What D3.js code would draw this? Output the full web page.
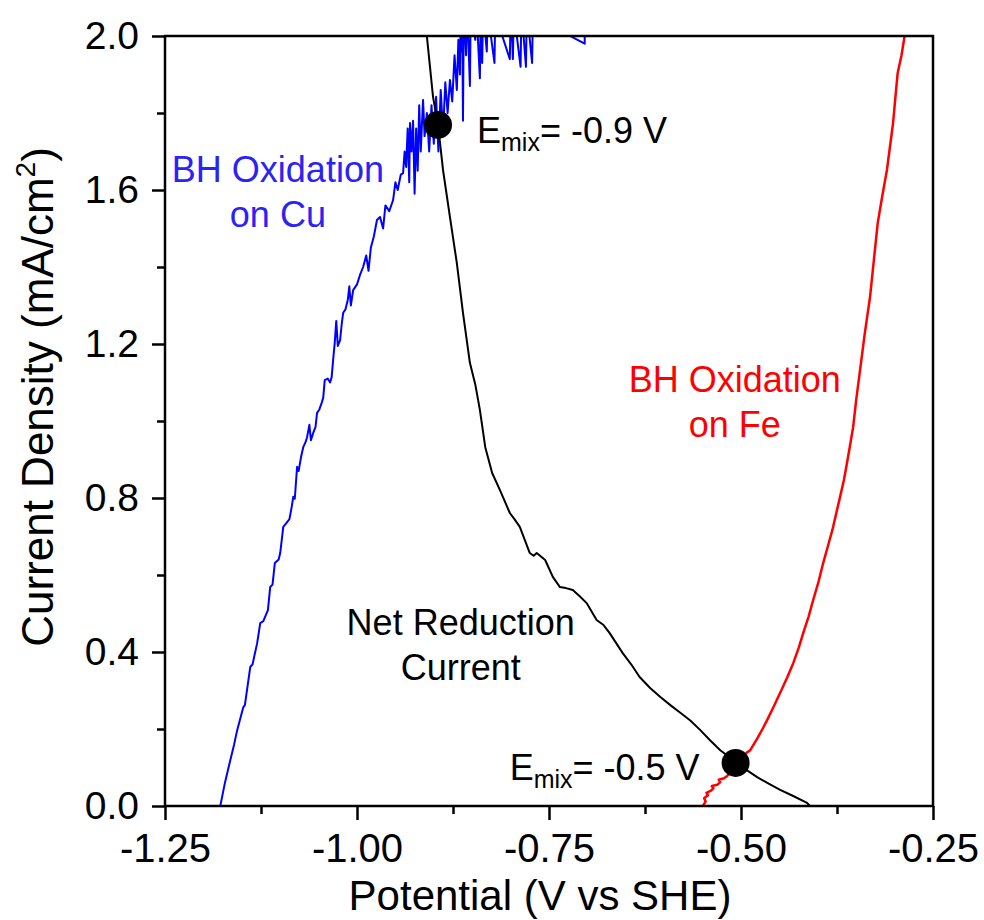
<!DOCTYPE html>
<html>
<head>
<meta charset="utf-8">
<script src="https://cdn.jsdelivr.net/npm/d3@7"></script>
<style>
  body { margin: 0; background: #fff; }
  text { font-family: "Liberation Sans", Arial, sans-serif; }
</style>
</head>
<body>
<div id="chart"></div>
<script>
// ---- data (potential V vs SHE, current density mA/cm2) ----
const xTicksMajor = [-1.25, -1.0, -0.75, -0.5, -0.25]
const xTickLabels = ["-1.25", "-1.00", "-0.75", "-0.50", "-0.25"]
const xTicksMinor = [-1.125, -0.875, -0.625, -0.375]
const yTicksMajor = [0, 0.4, 0.8, 1.2, 1.6, 2.0]
const yTickLabels = ["0.0", "0.4", "0.8", "1.2", "1.6", "2.0"]
const yTicksMinor = [0.2, 0.6, 1.0, 1.4, 1.8]

// BH oxidation on Cu (blue)
const cuPotential = [
  -1.178, -1.172, -1.165, -1.160, -1.156, -1.148, -1.146, -1.139, -1.136, -1.130,
  -1.126, -1.122, -1.116, -1.113, -1.110, -1.107, -1.102, -1.100, -1.096, -1.092,
  -1.088, -1.085, -1.083, -1.081, -1.078, -1.076, -1.073, -1.070, -1.067, -1.065,
  -1.062, -1.060, -1.057, -1.054, -1.052, -1.049, -1.046, -1.044, -1.042, -1.038,
  -1.035, -1.033, -1.031, -1.029, -1.027, -1.025, -1.022, -1.020, -1.018, -1.015,
  -1.012, -1.010, -1.008, -1.005, -1.000, -0.996, -0.992, -0.988, -0.985, -0.982,
  -0.978, -0.974, -0.970, -0.966, -0.963, -0.958, -0.953, -0.950, -0.947, -0.943,
  -0.940, -0.938, -0.936, -0.934, -0.932, -0.931, -0.929, -0.927, -0.925, -0.923,
  -0.921, -0.919, -0.917, -0.914, -0.912, -0.909, -0.906, -0.903, -0.900, -0.897,
  -0.894, -0.891, -0.888, -0.885, -0.882, -0.879, -0.876, -0.873, -0.870, -0.868,
  -0.866, -0.865, -0.864, -0.863, -0.862, -0.861, -0.860, -0.858, -0.857, -0.856,
  -0.853, -0.852, -0.851, -0.846, -0.845, -0.844, -0.840, -0.839, -0.838, -0.837,
  -0.836, -0.835, -0.831, -0.830, -0.829, -0.821, -0.820, -0.819, -0.801, -0.800,
  -0.799, -0.797, -0.796, -0.795, -0.787, -0.786, -0.785, -0.780, -0.779, -0.778,
  -0.772, -0.771, -0.770, -0.7035, -0.7035, -0.7030
]
const cuCurrent = [
  0.000, 0.060, 0.119, 0.160, 0.197, 0.257, 0.262, 0.361, 0.368, 0.423,
  0.475, 0.480, 0.509, 0.569, 0.575, 0.631, 0.640, 0.657, 0.725, 0.735,
  0.745, 0.777, 0.803, 0.798, 0.881, 0.870, 0.905, 0.932, 0.945, 0.958,
  0.990, 0.950, 0.969, 0.985, 1.021, 1.030, 1.047, 1.060, 1.106, 1.110,
  1.100, 1.114, 1.160, 1.203, 1.260, 1.195, 1.210, 1.250, 1.281, 1.290,
  1.314, 1.350, 1.300, 1.340, 1.355, 1.380, 1.400, 1.430, 1.390, 1.450,
  1.480, 1.522, 1.530, 1.500, 1.560, 1.545, 1.574, 1.620, 1.600, 1.640,
  1.644, 1.700, 1.660, 1.760, 1.620, 1.774, 1.700, 1.780, 1.590, 1.760,
  1.650, 1.820, 1.700, 1.834, 1.740, 1.800, 1.700, 1.820, 1.720, 1.842,
  1.700, 1.860, 1.750, 1.880, 1.800, 1.886, 1.830, 1.950, 1.860, 1.990,
  1.900, 2.050, 1.960, 2.050, 1.780, 2.050, 2.050, 1.950, 2.050, 2.050,
  1.870, 2.050, 2.050, 1.990, 2.050, 2.050, 1.890, 2.050, 2.050, 1.930,
  2.050, 2.050, 1.960, 2.050, 2.050, 1.930, 2.050, 2.050, 1.940, 2.050,
  2.050, 1.940, 2.050, 2.050, 1.920, 2.050, 2.050, 1.920, 2.050, 2.050,
  1.930, 2.050, 2.050, 1.980, 2.050
]

// net reduction current (black)
const netPotential = [
  -0.911, -0.9089, -0.901, -0.8945, -0.888, -0.879, -0.870, -0.862, -0.853, -0.846,
  -0.840, -0.833, -0.824, -0.814, -0.801, -0.795, -0.788, -0.775, -0.770, -0.766,
  -0.755, -0.745, -0.736, -0.728, -0.719, -0.710, -0.701, -0.688, -0.679, -0.671,
  -0.654, -0.643, -0.632, -0.618, -0.605, -0.592, -0.579, -0.566, -0.553, -0.540,
  -0.527, -0.517, -0.507, -0.493, -0.479, -0.464, -0.449, -0.432, -0.414, -0.410
]
const netCurrent = [
  2.030, 1.997, 1.842, 1.769, 1.652, 1.530, 1.410, 1.281, 1.151, 1.095,
  1.029, 0.932, 0.865, 0.821, 0.761, 0.745, 0.725, 0.657, 0.650, 0.657,
  0.639, 0.595, 0.569, 0.566, 0.561, 0.545, 0.527, 0.483, 0.470, 0.449,
  0.397, 0.368, 0.335, 0.306, 0.283, 0.262, 0.242, 0.222, 0.197, 0.170,
  0.145, 0.130, 0.112, 0.094, 0.075, 0.058, 0.042, 0.026, 0.008, 0.000
]

// BH oxidation on Fe (red)
const fePotential = [
  -0.5495, -0.546, -0.548, -0.543, -0.545, -0.539, -0.536, -0.538, -0.531, -0.527,
  -0.529, -0.522, -0.518, -0.514, -0.510, -0.507, -0.502, -0.497, -0.493, -0.488,
  -0.484, -0.478, -0.472, -0.466, -0.458, -0.449, -0.440, -0.432, -0.425, -0.419,
  -0.412, -0.406, -0.399, -0.393, -0.387, -0.381, -0.376, -0.371, -0.366, -0.362,
  -0.358, -0.354, -0.350, -0.345, -0.339, -0.332, -0.327, -0.322, -0.316, -0.310,
  -0.306, -0.302, -0.299, -0.296, -0.291, -0.287
]
const feCurrent = [
  0.000, 0.012, 0.020, 0.028, 0.034, 0.040, 0.046, 0.052, 0.055, 0.062,
  0.068, 0.072, 0.078, 0.086, 0.096, 0.107, 0.118, 0.125, 0.138, 0.145,
  0.158, 0.178, 0.200, 0.223, 0.256, 0.294, 0.333, 0.371, 0.410, 0.449,
  0.492, 0.535, 0.583, 0.631, 0.674, 0.717, 0.760, 0.803, 0.847, 0.891,
  0.937, 0.984, 1.055, 1.132, 1.225, 1.322, 1.418, 1.514, 1.585, 1.652,
  1.713, 1.774, 1.840, 1.904, 1.950, 2.000
]

// mixed potentials (black dots)
const mixPotential = [-0.8945, -0.507]
const mixCurrent = [1.769, 0.112]
const mixLabels = ["-0.9 V", "-0.5 V"]

// ---- layout ----
const margin = { top: 36, right: 51, bottom: 114, left: 165 }
const width = 984 - margin.left - margin.right
const height = 920 - margin.top - margin.bottom

const svg = d3.select("#chart")
    .append("svg")
    .attr("width", 984)
    .attr("height", 920)

const g = svg.append("g")
    .attr("transform", "translate(" + margin.left + "," + margin.top + ")")

const x = d3.scaleLinear().domain([-1.25, -0.25]).range([0, width])
const y = d3.scaleLinear().domain([0, 2]).range([height, 0])

g.append("defs").append("clipPath")
    .attr("id", "plotClip")
    .append("rect")
    .attr("width", width)
    .attr("height", height)

const line = d3.line().x(d => x(d[0])).y(d => y(d[1]))
const zip = (a, b) => a.map((v, i) => [v, b[i]])

const curves = [
    { pts: zip(cuPotential, cuCurrent), color: "#0000ff", w: 2 },
    { pts: zip(netPotential, netCurrent), color: "#000000", w: 2 },
    { pts: zip(fePotential, feCurrent), color: "#ff0000", w: 2.5 }
]

const plot = g.append("g").attr("clip-path", "url(#plotClip)")
curves.forEach(c => {
    plot.append("path")
        .datum(c.pts)
        .attr("d", line)
        .attr("fill", "none")
        .attr("stroke", c.color)
        .attr("stroke-width", c.w)
        .attr("stroke-linejoin", "round")
})

g.selectAll(".mix")
    .data(mixPotential)
    .enter().append("circle")
    .attr("class", "mix")
    .attr("cx", d => x(d))
    .attr("cy", (d, i) => y(mixCurrent[i]))
    .attr("r", 14)
    .attr("fill", "#000")

// E_mix labels
const mixOffsets = [{ dx: 39, dy: 18, anchor: "start" }, { dx: -36, dy: 17, anchor: "end" }]
mixPotential.forEach((v, i) => {
    const o = mixOffsets[i]
    const t = g.append("text")
        .attr("x", x(v) + o.dx)
        .attr("y", y(mixCurrent[i]) + o.dy)
        .attr("text-anchor", o.anchor)
        .attr("font-size", 36)
        .attr("fill", "#000")
    t.append("tspan").text("E")
    t.append("tspan").attr("font-size", 25).attr("dy", 8).text("mix")
    t.append("tspan").attr("dy", -8).text("= " + mixLabels[i])
})

// curve labels
const curveLabels = [
    { lines: ["BH Oxidation", "on Cu"], v: -1.103, j: 1.621, color: "#2b22f5" },
    { lines: ["Net Reduction", "Current"], v: -0.865, j: 0.444, color: "#000" },
    { lines: ["BH Oxidation", "on Fe"], v: -0.508, j: 1.075, color: "#ff0000" }
]
curveLabels.forEach(l => {
    const t = g.append("text")
        .attr("text-anchor", "middle")
        .attr("font-size", 36)
        .attr("fill", l.color)
    l.lines.forEach((s, k) => {
        t.append("tspan")
            .attr("x", x(l.v))
            .attr("y", y(l.j) + k * 45)
            .text(s)
    })
})

// axes
const xAxis = g.append("g")
    .attr("transform", "translate(0," + height + ")")
    .call(d3.axisBottom(x).tickValues(xTicksMajor).tickFormat((d, i) => xTickLabels[i]).tickSize(14).tickSizeOuter(0))
xAxis.select(".domain").remove()
xAxis.selectAll("line").attr("stroke", "#000").attr("stroke-width", 2.5)
xAxis.selectAll("text").attr("y", 56).attr("dy", null).attr("font-size", 40)
    .attr("font-family", "'Liberation Sans', Arial, sans-serif").attr("fill", "#000")

const xMinor = g.append("g")
    .attr("transform", "translate(0," + height + ")")
    .call(d3.axisBottom(x).tickValues(xTicksMinor).tickFormat("").tickSize(8).tickSizeOuter(0))
xMinor.select(".domain").remove()
xMinor.selectAll("line").attr("stroke", "#000").attr("stroke-width", 2.5)

const yAxis = g.append("g")
    .call(d3.axisLeft(y).tickValues(yTicksMajor).tickFormat((d, i) => yTickLabels[i]).tickSize(13).tickSizeOuter(0).tickPadding(13))
yAxis.select(".domain").remove()
yAxis.selectAll("line").attr("stroke", "#000").attr("stroke-width", 2.5)
yAxis.selectAll("text").attr("font-size", 39)
    .attr("font-family", "'Liberation Sans', Arial, sans-serif").attr("fill", "#000")

const yMinor = g.append("g")
    .call(d3.axisLeft(y).tickValues(yTicksMinor).tickFormat("").tickSize(8).tickSizeOuter(0))
yMinor.select(".domain").remove()
yMinor.selectAll("line").attr("stroke", "#000").attr("stroke-width", 2.5)

// frame
g.append("rect")
    .attr("width", width)
    .attr("height", height)
    .attr("fill", "none")
    .attr("stroke", "#000")
    .attr("stroke-width", 2.5)

// axis titles
svg.append("text")
    .attr("x", 540)
    .attr("y", 910)
    .attr("text-anchor", "middle")
    .attr("font-size", 42)
    .text("Potential (V vs SHE)")

const yTitle = svg.append("text")
    .attr("transform", "translate(53,397) rotate(-90)")
    .attr("text-anchor", "middle")
    .attr("font-size", 44)
yTitle.append("tspan").text("Current Density (mA/cm")
yTitle.append("tspan").attr("font-size", 28).attr("dy", -18).text("2")
yTitle.append("tspan").attr("dy", 18).text(")")
</script>
</body>
</html>
